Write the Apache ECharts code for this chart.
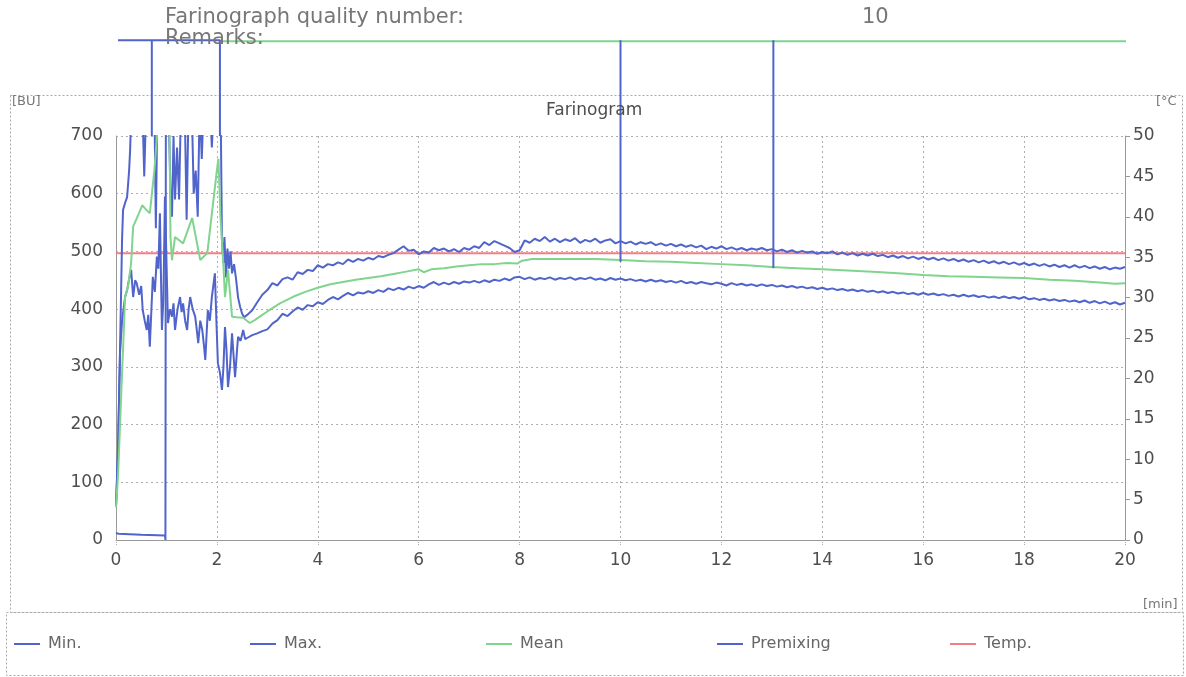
<!DOCTYPE html>
<html>
<head>
<meta charset="utf-8">
<script src="https://cdn.jsdelivr.net/npm/echarts@6/dist/echarts.min.js"></script>
<style>
html,body{margin:0;padding:0;background:#fff;}
#chart{width:1186px;height:677px;}
</style>
</head>
<body>
<div id="chart"></div>
<script>
// ---------- DATA ----------
const xTicks = [0, 2, 4, 6, 8, 10, 12, 14, 16, 18, 20];
const buTicks = [0, 100, 200, 300, 400, 500, 600, 700];
const tempTicks = [0, 5, 10, 15, 20, 25, 30, 35, 40, 45, 50];
const qualityNumber = '10';

// Max curve, early irregular part [min, BU]
const maxEarly = [
  [0.00, 58], [0.04, 150], [0.08, 330], [0.12, 520], [0.14, 572], [0.18, 584], [0.22, 594],
  [0.26, 640], [0.28, 676], [0.31, 760], [0.45, 760], [0.52, 760], [0.56, 630], [0.60, 760],
  [0.76, 760], [0.79, 540], [0.82, 760], [0.95, 760], [1.04, 760], [1.08, 600], [1.11, 560],
  [1.14, 700], [1.17, 590], [1.21, 680], [1.25, 590], [1.29, 760], [1.36, 760], [1.40, 555],
  [1.44, 760], [1.50, 760], [1.54, 600], [1.58, 640], [1.62, 560], [1.66, 760], [1.70, 660],
  [1.74, 760], [1.86, 760], [1.90, 680], [1.94, 760], [2.04, 760], [2.08, 700], [2.10, 520],
  [2.13, 480], [2.15, 525], [2.18, 455], [2.21, 505], [2.24, 470], [2.27, 500], [2.30, 462],
  [2.34, 478], [2.38, 452], [2.42, 420], [2.46, 404], [2.50, 392], [2.54, 386]
];
// Max curve, sampled every 0.1 min from 2.6 to 20 min
const maxTailStart = 2.6;
const tailStep = 0.1;
const maxTail = [
  390, 398, 412, 425, 433, 445, 441, 452, 455, 451, 464, 461, 468, 466, 476, 472, 478, 476, 481, 478,
  486, 482, 487, 484, 489, 486, 492, 490, 494, 497, 503, 509, 501, 503, 495, 500, 498, 506, 502, 505,
  500, 504, 499, 506, 503, 509, 506, 516, 511, 518, 514, 510, 506, 499, 502, 519, 515, 522, 518, 525,
  517, 522, 516, 521, 518, 523, 515, 520, 517, 522, 515, 519, 521, 514, 518, 514, 517, 512, 516, 513,
  516, 511, 514, 510, 513, 509, 512, 508, 511, 507, 510, 504, 508, 505, 509, 504, 507, 503, 506, 502,
  505, 503, 506, 502, 504, 500, 503, 499, 502, 498, 501, 498, 500, 496, 499, 497, 500, 495, 498, 494,
  497, 493, 496, 493, 496, 492, 494, 490, 493, 489, 492, 488, 491, 487, 490, 486, 489, 485, 488, 484,
  487, 483, 486, 482, 485, 481, 484, 480, 483, 479, 482, 478, 481, 477, 480, 476, 479, 475, 478, 474,
  477, 473, 476, 472, 476, 472, 475, 471, 474, 470, 473, 469, 472, 470, 473
];

// Min curve, early irregular part [min, BU]
const minEarly = [
  [0.00, 57], [0.04, 160], [0.08, 324], [0.12, 380], [0.18, 421], [0.22, 433], [0.26, 452],
  [0.30, 468], [0.34, 421], [0.38, 450], [0.41, 445], [0.46, 425], [0.50, 440], [0.53, 398],
  [0.57, 380], [0.61, 364], [0.64, 390], [0.67, 335], [0.73, 456], [0.77, 430], [0.81, 491],
  [0.84, 470], [0.87, 566], [0.91, 364], [0.94, 420], [0.97, 595], [1.03, 376], [1.07, 400],
  [1.11, 387], [1.14, 410], [1.17, 364], [1.22, 400], [1.27, 421], [1.30, 395], [1.33, 410],
  [1.37, 380], [1.41, 364], [1.44, 400], [1.47, 421], [1.52, 400], [1.57, 387], [1.60, 365],
  [1.63, 341], [1.67, 380], [1.71, 364], [1.74, 340], [1.77, 312], [1.82, 398], [1.86, 380],
  [1.90, 421], [1.96, 462], [1.99, 380], [2.02, 306], [2.06, 290], [2.10, 260], [2.13, 300],
  [2.16, 369], [2.19, 330], [2.22, 265], [2.26, 300], [2.30, 358], [2.33, 320], [2.36, 282],
  [2.40, 330], [2.42, 352], [2.47, 345], [2.52, 364], [2.56, 348]
];
const minTailStart = 2.6;
const minTail = [
  350, 355, 358, 362, 365, 375, 381, 392, 388, 396, 403, 399, 407, 405, 412, 409, 416, 421, 417, 423,
  428, 424, 429, 427, 431, 428, 433, 430, 436, 433, 437, 434, 439, 436, 440, 437, 443, 447, 442, 446,
  443, 447, 444, 448, 446, 449, 446, 450, 447, 451, 449, 453, 450, 455, 456, 452, 455, 451, 454, 452,
  455, 451, 454, 452, 455, 451, 454, 452, 455, 451, 453, 450, 454, 451, 453, 450, 452, 449, 451, 448,
  451, 448, 450, 447, 449, 446, 449, 445, 447, 444, 447, 445, 443, 446, 444, 441, 445, 442, 444, 441,
  443, 440, 443, 440, 442, 439, 441, 438, 440, 437, 439, 436, 438, 435, 437, 434, 436, 433, 435, 432,
  434, 431, 433, 430, 432, 429, 431, 428, 430, 427, 429, 426, 428, 425, 428, 425, 427, 424, 426, 423,
  425, 422, 425, 422, 424, 421, 423, 420, 422, 419, 422, 419, 421, 418, 421, 417, 419, 416, 418, 415,
  417, 414, 416, 413, 415, 412, 415, 411, 414, 410, 413, 409, 412, 408, 411
];

// Mean curve [min, BU]
const meanData = [
  [0.00, 57], [0.04, 110], [0.08, 200], [0.12, 290], [0.14, 330], [0.18, 421], [0.24, 440],
  [0.30, 480], [0.34, 543], [0.45, 565], [0.52, 580], [0.60, 572], [0.67, 566], [0.76, 640],
  [0.83, 720], [1.06, 720], [1.08, 525], [1.11, 485], [1.17, 525], [1.33, 514], [1.51, 558],
  [1.67, 485], [1.81, 497], [2.00, 641], [2.03, 661], [2.07, 560], [2.12, 491], [2.16, 421],
  [2.22, 468], [2.30, 387], [2.40, 386], [2.52, 385], [2.65, 376], [2.75, 381], [2.85, 387],
  [3.00, 396], [3.25, 410], [3.50, 421], [3.75, 430], [4.00, 437], [4.25, 443], [4.50, 447],
  [4.75, 451], [5.00, 454], [5.25, 457], [5.50, 461], [5.75, 465], [6.00, 469], [6.10, 464],
  [6.25, 469], [6.50, 471], [6.75, 474], [7.00, 476], [7.25, 478], [7.50, 478], [7.75, 480],
  [7.95, 479], [8.05, 484], [8.25, 487], [8.50, 487], [9.00, 487], [9.50, 487], [10.00, 485],
  [10.50, 483], [11.00, 482], [11.50, 480], [12.00, 478], [12.50, 476], [13.00, 473], [13.50, 471],
  [14.00, 469], [14.50, 467], [15.00, 465], [15.50, 462], [16.00, 459], [16.50, 457], [17.00, 456],
  [17.50, 455], [18.00, 454], [18.50, 451], [19.00, 449], [19.50, 446], [19.80, 444], [20.00, 445]
];

// Premixing curve [min, BU]
const premixData = [
  [0.00, 12], [0.05, 11], [0.50, 9], [0.97, 8], [0.98, 0], [0.99, 0], [0.99, 900]
];

// Temperature [min, °C]
const tempData = [[0, 35.5], [20, 35.5]];

// Marker lines printed above the diagram [min, BU]
const topBlueMarks = [
  [0.04, 866], [0.71, 866], [0.71, 700], [0.71, 866], [2.06, 866], [2.06, 700]
];
const topGreenMark = [[2.06, 864], [20.06, 864]];
const mark10 = [[10.0, 866], [10.0, 482]];
const mark13 = [[13.03, 866], [13.03, 471]];

// ---------- BUILD ----------
function tail(start, vals) {
  return vals.map((v, i) => [Math.round((start + i * tailStep) * 100) / 100, v]);
}
const maxData = maxEarly.concat(tail(maxTailStart, maxTail));
const minData = minEarly.concat(tail(minTailStart, minTail));

const BLUE = '#5064cc';
const GREEN = '#80d48e';
const RED = '#f27f86';
const TXT = '#4e4e4e';
const FONT = 'DejaVu Sans';

const chart = echarts.init(document.getElementById('chart'));

function lineSeries(name, data, color, extra) {
  return Object.assign({
    name: name, type: 'line', data: data, showSymbol: false, symbol: 'none',
    lineStyle: { color: color, width: 2 }, itemStyle: { color: color },
    animation: false, z: 3
  }, extra || {});
}

const legendNames = ['Min.', 'Max.', 'Mean', 'Premixing', 'Temp.'];
const legendLefts = [14, 250, 486, 717, 950];
const legends = legendNames.map((n, i) => ({
  data: [n], left: legendLefts[i], top: 636, icon: 'rect', itemWidth: 26, itemHeight: 2,
  padding: 0, selectedMode: false,
  textStyle: { color: '#666', fontFamily: FONT, fontSize: 16, padding: [0, 0, 0, 3] }
}));

const option = {
  animation: false,
  backgroundColor: '#fff',
  title: {
    text: 'Farinogram', left: 546, top: 102, padding: 0,
    textStyle: { color: TXT, fontFamily: FONT, fontSize: 17, fontWeight: 'normal' }
  },
  legend: legends,
  grid: { left: 116, right: 61, top: 136, bottom: 137, containLabel: false },
  xAxis: {
    type: 'value', min: 0, max: 20, interval: 2,
    axisLine: { show: true, lineStyle: { color: '#999', width: 1 } },
    axisTick: { show: true, length: 6, lineStyle: { color: '#aaa', type: 'dotted' } },
    axisLabel: { color: TXT, fontFamily: FONT, fontSize: 17, margin: 12,
      formatter: v => xTicks.includes(v) ? String(v) : '' },
    splitLine: { show: true, lineStyle: { color: '#b0b0b0', type: [2, 3], width: 1 } }
  },
  yAxis: [
    {
      type: 'value', min: 0, max: 700, interval: 100, position: 'left',
      axisLine: { show: true, lineStyle: { color: '#999', width: 1 } },
      axisTick: { show: false },
      axisLabel: { color: TXT, fontFamily: FONT, fontSize: 17, margin: 13,
        formatter: v => buTicks.includes(v) ? String(v) : '' },
      splitLine: { show: true, lineStyle: { color: '#b0b0b0', type: [2, 3], width: 1 } }
    },
    {
      type: 'value', min: 0, max: 50, interval: 5, position: 'right',
      axisLine: { show: true, lineStyle: { color: '#999', width: 1 } },
      axisTick: { show: true, length: 5, lineStyle: { color: '#999' } },
      axisLabel: { color: TXT, fontFamily: FONT, fontSize: 17, margin: 8,
        formatter: v => tempTicks.includes(v) ? String(v) : '' },
      splitLine: { show: false }
    }
  ],
  graphic: [
    { type: 'rect', shape: { x: 10.5, y: 95.5, width: 1172, height: 517 },
      style: { fill: 'none', stroke: '#aaa', lineWidth: 1, lineDash: [2, 2] }, silent: true },
    { type: 'rect', shape: { x: 6.5, y: 612.5, width: 1177, height: 63 },
      style: { fill: 'none', stroke: '#aaa', lineWidth: 1, lineDash: [2, 2] }, silent: true },
    { type: 'text', x: 165, y: 7, silent: true,
      style: { text: 'Farinograph quality number:', fill: '#777', font: '21px "DejaVu Sans"' } },
    { type: 'text', x: 862, y: 7, silent: true,
      style: { text: qualityNumber, fill: '#777', font: '21px "DejaVu Sans"' } },
    { type: 'text', x: 165, y: 28, silent: true, z: 10,
      style: { text: 'Remarks:', fill: '#777', font: '21px "DejaVu Sans"' } },
    { type: 'text', x: 12, y: 95, silent: true,
      style: { text: '[BU]', fill: '#777', font: '13px "DejaVu Sans"' } },
    { type: 'text', x: 1156, y: 95, silent: true,
      style: { text: '[°C', fill: '#777', font: '13px "DejaVu Sans"' } },
    { type: 'text', x: 1143, y: 598, silent: true,
      style: { text: '[min]', fill: '#777', font: '13px "DejaVu Sans"' } }
  ],
  series: [
    lineSeries('Min.', minData, BLUE),
    lineSeries('Max.', maxData, BLUE),
    lineSeries('Mean', meanData, GREEN),
    lineSeries('Premixing', premixData, BLUE),
    lineSeries('Temp.', tempData, RED, { yAxisIndex: 1, z: 2 }),
    lineSeries('topBlue', topBlueMarks, BLUE, { clip: false, silent: true }),
    lineSeries('topGreen', topGreenMark, GREEN, { clip: false, silent: true, z: 2 }),
    lineSeries('mark10', mark10, BLUE, { clip: false, silent: true }),
    lineSeries('mark13', mark13, BLUE, { clip: false, silent: true })
  ]
};
chart.setOption(option);
</script>
</body>
</html>
